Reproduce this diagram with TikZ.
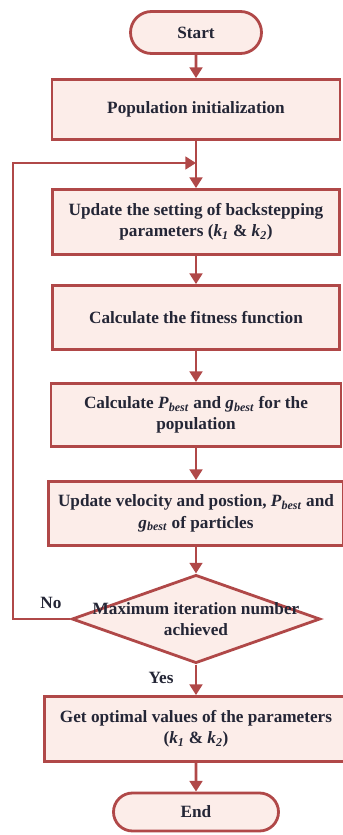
\documentclass[tikz,border=0pt]{standalone}
\usepackage{fontspec}
\setmainfont{Liberation Serif}
\usetikzlibrary{arrows.meta,positioning,shapes.geometric,shapes.misc}
\definecolor{fcred}{RGB}{176,72,72}
\definecolor{fcfill}{RGB}{252,237,233}
\definecolor{fctext}{RGB}{36,38,54}
\newcommand{\bsub}[2]{\textit{#1}\textsubscript{\textit{#2}}}
\newcommand{\fcfont}{\fontsize{14.7}{18.2}\selectfont\bfseries}
\tikzset{
  term/.style={draw=fcred, fill=fcfill, line width=2.4pt, rounded rectangle,
               inner sep=0pt, font=\fcfont, text=fctext},
  proc/.style={draw=fcred, fill=fcfill, line width=2.4pt, inner sep=0pt,
               align=center, font=\fcfont, text=fctext},
  dec/.style={draw=fcred, fill=fcfill, line width=2.4pt, diamond, inner sep=0pt,
              minimum width=7.45cm, minimum height=2.65cm},
  flowarr/.style={-{Triangle[length=3.2mm,width=3.8mm]}, fcred, line width=2.4pt},
  lbl/.style={font=\fcfont, text=fctext},
}
\begin{document}
\begin{tikzpicture}[x=0.03cm, y=-0.03cm]
    \useasboundingbox (0,0) rectangle (343,835);
    \clip (0,0) rectangle (343,835);
    % terminals and steps
    \node[term, minimum width=3.93cm, minimum height=1.26cm] (start) at (196,32.5) {Start};
    \node[proc, minimum width=8.64cm, minimum height=1.8cm] (pop) at (196,109.5)
         {Population initialization};
    \node[proc, minimum width=8.61cm, minimum height=1.95cm] (upd) at (196,222)
         {Update the setting of backstepping\\parameters (\bsub{k}{1} \& \bsub{k}{2})};
    \node[proc, minimum width=8.61cm, minimum height=1.92cm] (fit) at (196,317.5)
         {Calculate the fitness function};
    \node[proc, minimum width=8.7cm, minimum height=1.89cm] (best) at (196,415)
         {Calculate \bsub{P}{best} and \bsub{g}{best} for the\\population};
    \node[proc, minimum width=8.85cm, minimum height=1.92cm] (vel) at (196,513.5)
         {Update velocity and postion, \bsub{P}{best} and\\\bsub{g}{best} of particles};
    \node[dec] (chk) at (196,619) {};
    \node[lbl, align=center] (chktxt) at (chk) {Maximum iteration number\\achieved};
    \node[proc, minimum width=9.09cm, minimum height=1.95cm] (opt) at (196,729)
         {Get optimal values of the parameters\\(\bsub{k}{1} \& \bsub{k}{2})};
    \node[term, minimum width=4.95cm, minimum height=1.14cm] (end) at (196,812) {End};
    % connectors
    \coordinate (back) at (13,163);
    \coordinate (mrg) at (196,163);
    \draw[flowarr] (start) -- (pop);
    \draw[flowarr] (pop) -- (upd);
    \draw[flowarr] (upd) -- (fit);
    \draw[flowarr] (fit) -- (best);
    \draw[flowarr] (best) -- (vel);
    \draw[flowarr] (vel) -- (chk);
    \draw[flowarr] (chk) -- (opt);
    \draw[flowarr] (opt) -- (end);
    \draw[flowarr] (chk.west) -| (back) -- (mrg);
    \node[lbl] (no) at (51,603) {No};
    \node[lbl] (yes) at (161,678) {Yes};
\end{tikzpicture}
\end{document}
